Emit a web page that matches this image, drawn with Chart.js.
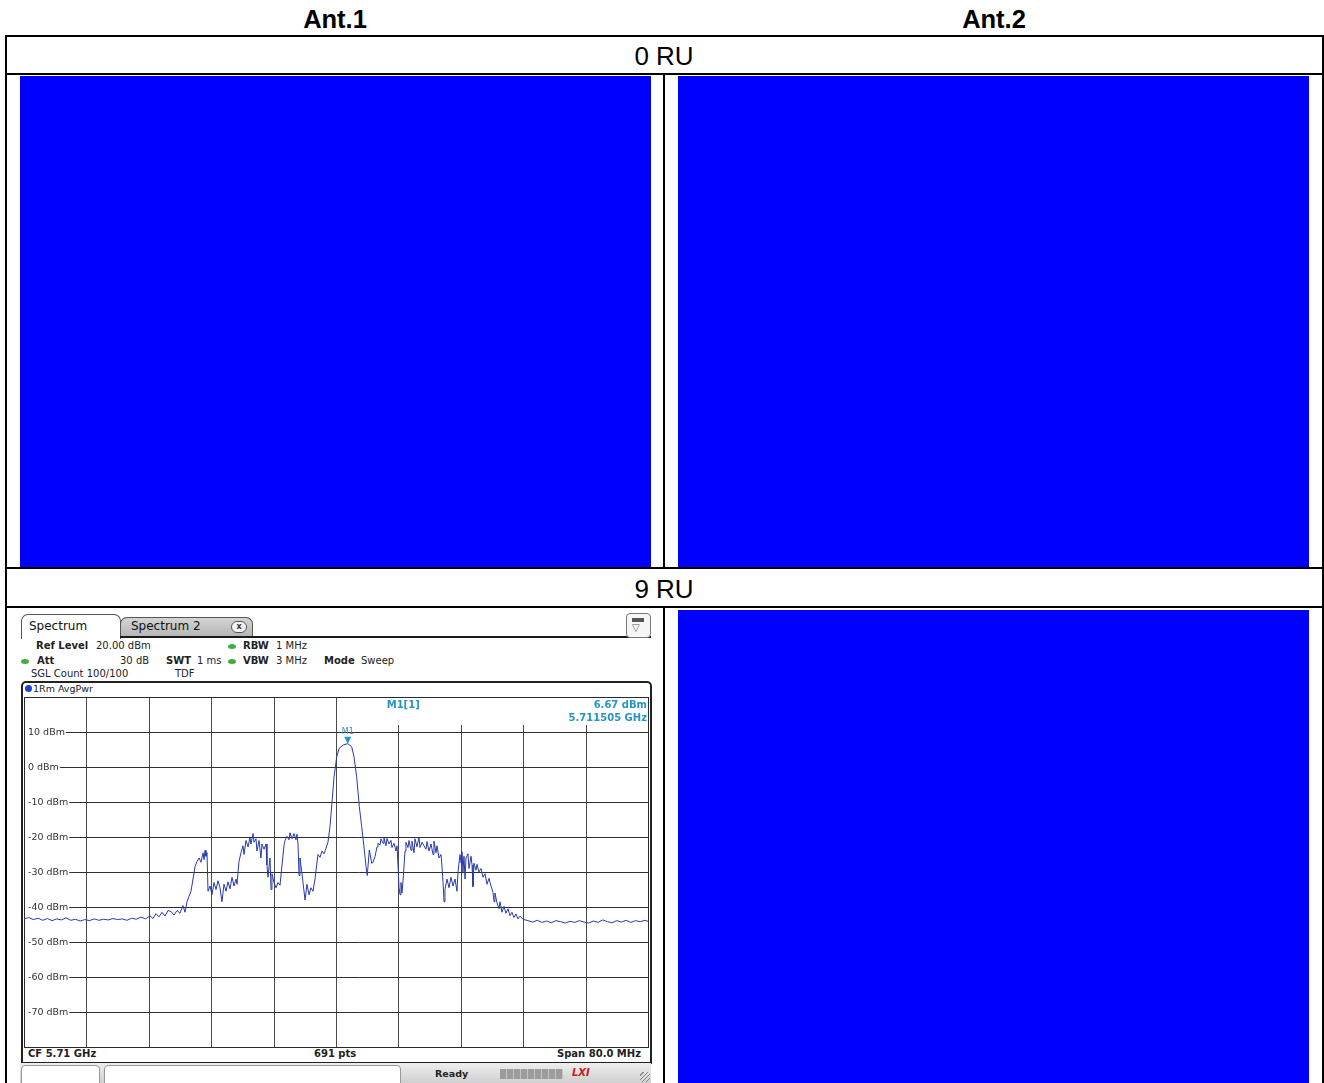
<!DOCTYPE html>
<html>
<head>
<meta charset="utf-8">
<script src="https://cdn.jsdelivr.net/npm/chart.js@4.4.1/dist/chart.umd.min.js"></script>
<style>
  html, body { margin: 0; padding: 0; background: #fff; }
  body { width: 1324px; height: 1083px; position: relative; overflow: hidden;
         font-family: "Liberation Sans", Arial, sans-serif; }
  .hl { position: absolute; background: #000; height: 2px; }
  .vl { position: absolute; background: #000; width: 2px; }
  .blue { position: absolute; background: #0000ff; }
  .colhead { position: absolute; top: 4px; width: 300px; font-weight: bold; font-size: 25.5px;
             line-height: 30px; text-align: center; color: #000; }
  .rowhead { position: absolute; left: 6px; width: 1316px; font-size: 26px; line-height: 30px;
             text-align: center; color: #000; }
  .sa { position: absolute; white-space: nowrap; font-family: "DejaVu Sans", Verdana, sans-serif;
        font-size: 10px; line-height: 12px; color: #222; }
  .b { font-weight: bold; }
  .dot { position: absolute; width: 8px; height: 5px; border-radius: 50%; background: #3fae3f; }
</style>
</head>
<body>
<!-- column headings -->
<div class="colhead" id="col0" style="left:185px;"></div>
<div class="colhead" id="col1" style="left:844px;"></div>

<!-- table rules -->
<div class="hl" style="left:5px; top:35px; width:1319px;"></div>
<div class="hl" style="left:5px; top:73px; width:1319px;"></div>
<div class="hl" style="left:5px; top:567px; width:1319px;"></div>
<div class="hl" style="left:5px; top:606px; width:1319px;"></div>
<div class="vl" style="left:5px; top:35px; height:1048px;"></div>
<div class="vl" style="left:1322px; top:35px; height:1048px;"></div>
<div class="vl" style="left:663px; top:74px; height:494px;"></div>
<div class="vl" style="left:663px; top:607px; height:476px;"></div>

<div class="rowhead" id="row0" style="top:41px;"></div>
<div class="rowhead" id="row1" style="top:574px;"></div>

<!-- empty result panels -->
<div class="blue" style="left:20px; top:76px; width:631px; height:491px;"></div>
<div class="blue" style="left:678px; top:76px; width:631px; height:491px;"></div>
<div class="blue" style="left:678px; top:610px; width:631px; height:473px;"></div>

<!-- spectrum analyzer panel -->
<div style="position:absolute; left:20px; top:609px; width:631px; height:474px; background:#fff;"></div>
<!-- tabs -->
<div style="position:absolute; left:120px; top:617px; width:131px; height:19px; background:linear-gradient(#d4d4d4,#b4b4b4); border:1px solid #555; border-bottom:none; border-radius:7px 7px 0 0;"></div>
<div style="position:absolute; left:21px; top:614px; width:98px; height:24px; background:#fff; border:1px solid #555; border-bottom:none; border-radius:7px 7px 0 0;"></div>
<div style="position:absolute; left:120px; top:636px; width:531px; height:2px; background:#1a1a1a;"></div>
<div class="sa" style="left:29px; top:619px; font-size:12px; line-height:14px; color:#111;">Spectrum</div>
<div class="sa" style="left:131px; top:619px; font-size:12px; line-height:14px; color:#111;">Spectrum 2</div>
<div style="position:absolute; left:231px; top:621px; width:14px; height:10px; border:1px solid #555; border-radius:6px; background:#f4f4f4; font:bold 8px 'DejaVu Sans'; line-height:10px; text-align:center; color:#333;">x</div>
<!-- display config button -->
<div style="position:absolute; left:626px; top:613px; width:23px; height:23px; border:1px solid #777; border-radius:4px; background:#f6f6f6;"></div>
<div style="position:absolute; left:632px; top:618px; width:12px; height:4px; background:#555;"></div>
<div class="sa" style="left:632px; top:622px; font-size:10px; color:#555;">▽</div>

<!-- settings block -->
<div class="sa b" style="left:36px; top:640px;">Ref Level</div>
<div class="sa" style="left:96px; top:640px;">20.00 dBm</div>
<div class="dot" style="left:228px; top:644px;"></div>
<div class="sa b" style="left:243px; top:640px;">RBW</div>
<div class="sa" style="left:276px; top:640px;">1 MHz</div>

<div class="dot" style="left:21px; top:659px;"></div>
<div class="sa b" style="left:37px; top:655px;">Att</div>
<div class="sa" style="left:120px; top:655px;">30 dB</div>
<div class="sa b" style="left:166px; top:655px;">SWT</div>
<div class="sa" style="left:197px; top:655px;">1 ms</div>
<div class="dot" style="left:228px; top:659px;"></div>
<div class="sa b" style="left:243px; top:655px;">VBW</div>
<div class="sa" style="left:276px; top:655px;">3 MHz</div>
<div class="sa b" style="left:324px; top:655px;">Mode</div>
<div class="sa" style="left:361px; top:655px;">Sweep</div>

<div class="sa" style="left:31px; top:668px;">SGL Count 100/100</div>
<div class="sa" style="left:175px; top:668px;">TDF</div>

<!-- trace window frame -->
<div style="position:absolute; left:21px; top:681px; width:627px; height:379px; border:2px solid #222; border-radius:5px 5px 0 0;"></div>
<div style="position:absolute; left:25px; top:685px; width:7px; height:7px; border-radius:50%; background:#2040d0;"></div>
<div class="sa" style="left:33px; top:683px; font-size:9.5px;">1Rm AvgPwr</div>

<canvas id="spectrum" width="625" height="351" style="position:absolute; left:24px; top:697px;"></canvas>

<!-- footer of the trace window -->
<div class="sa b" style="left:28px; top:1048px;">CF 5.71 GHz</div>
<div class="sa b" style="left:314px; top:1048px;">691 pts</div>
<div class="sa b" style="left:557px; top:1048px;">Span 80.0 MHz</div>

<!-- status bar -->
<div style="position:absolute; left:20px; top:1063px; width:631px; height:20px; background:linear-gradient(#eeeeee,#cfcfcf);"></div>
<div style="position:absolute; left:21px; top:1065px; width:77px; height:20px; background:#fff; border:1px solid #999; border-radius:4px;"></div>
<div style="position:absolute; left:104px; top:1065px; width:295px; height:20px; background:#fff; border:1px solid #999; border-radius:4px;"></div>
<div class="sa b" style="left:435px; top:1068px; font-size:9.5px;">Ready</div>
<div style="position:absolute; left:500px; top:1069px; width:63px; height:10px; background:repeating-linear-gradient(90deg,#9c9c9c 0 6px,#c4c4c4 6px 7px);"></div>
<div class="sa b" style="left:572px; top:1067px; font-style:italic; color:#d01818; font-size:10px;">LXI</div>
<div style="position:absolute; left:640px; top:1072px; width:10px; height:10px; background:repeating-linear-gradient(135deg,transparent 0 2px,#888 2px 3px);"></div>

<script>
// table captions
const columnTitles = ['Ant.1', 'Ant.2'];
const rowTitles = ['0 RU', '9 RU'];

// analyzer sweep: 5.71 GHz centre, 80 MHz span, average power trace
const centerMHz = 5710;
const spanMHz = 80;
const refLevelDbm = 20;
const levelRangeDb = 100;

// frequency of each trace point, MHz offset from centre
const freqOffsetMHz = [
  -40.0, -39.4, -38.8, -38.2, -37.6, -37.0, -36.4, -35.8, -35.2, -34.6,
  -34.0, -33.4, -32.8, -32.2, -31.6, -31.0, -30.4, -29.8, -29.2, -28.6,
  -28.0, -27.4, -26.8, -26.2, -25.6, -25.0, -24.4,
  -23.85, -23.46, -23.08, -22.69, -22.31, -21.92, -21.54, -21.15, -20.77, -20.38,
  -20.00, -19.62, -19.36, -19.10, -18.85, -18.59, -18.33, -18.08, -17.82, -17.56,
  -17.31, -17.05, -16.92, -16.79, -16.67, -16.54, -16.41, -16.15, -15.90, -15.64,
  -15.38, -15.13, -14.87, -14.62, -14.36, -14.10, -13.85, -13.59, -13.33, -13.08,
  -12.82, -12.69, -12.44, -12.18, -11.92, -11.79, -11.54, -11.28, -11.03, -10.90,
  -10.64, -10.51, -10.26, -10.13, -9.87, -9.62, -9.49, -9.23, -8.97, -8.85,
  -8.72, -8.46, -8.33, -8.21, -7.95, -7.69, -7.44, -7.18, -6.92, -6.67,
  -6.54, -6.28, -6.03, -5.90, -5.64, -5.38, -5.13, -5.00, -4.87, -4.74,
  -4.62, -4.36, -4.23, -3.97, -3.72, -3.46, -3.21, -2.95, -2.69, -2.56,
  -2.31, -2.05, -1.79, -1.54, -1.28, -1.03, -0.77, -0.51, -0.26, 0.09,
  0.42, 0.94, 1.505, 2.01, 2.31, 2.65, 2.99, 3.29, 3.59, 3.85,
  4.01, 4.27, 4.58, 4.74, 5.00, 5.26, 5.38, 5.64, 5.77, 6.03,
  6.15, 6.41, 6.54, 6.79, 7.05, 7.18, 7.44, 7.69, 7.82, 7.95,
  8.08, 8.21, 8.33, 8.46, 8.59, 8.85, 8.97, 9.23, 9.36, 9.62,
  9.74, 10.00, 10.13, 10.38, 10.64, 10.77, 11.03, 11.28, 11.54, 11.67,
  11.92, 12.18, 12.44, 12.56, 12.82, 12.95, 13.21, 13.46, 13.59, 13.72,
  13.85, 13.97, 14.23, 14.49, 14.74, 15.00, 15.26, 15.51, 15.64, 15.90,
  16.03, 16.15, 16.28, 16.41, 16.54, 16.67, 16.92, 17.05, 17.31, 17.44,
  17.56, 17.69, 17.95, 18.08, 18.33, 18.59, 18.85, 19.10, 19.36, 19.62,
  19.87, 20.13, 20.26, 20.38, 20.64, 20.90, 21.03, 21.28, 21.54, 21.79,
  22.05, 22.31, 22.56, 22.82, 23.08, 23.33, 23.59, 23.97,
  24.6, 25.2, 25.8, 26.4, 27.0, 27.6, 28.2, 28.8, 29.4, 30.0,
  30.6, 31.2, 31.8, 32.4, 33.0, 33.6, 34.2, 34.8, 35.4, 36.0,
  36.6, 37.2, 37.8, 38.4, 39.0, 39.6, 40.0
];

// measured level at each point, dBm
const levelDbm = [
  -43.4, -43.0, -43.6, -43.2, -43.8, -43.3, -43.9, -43.4, -43.7, -43.1,
  -43.8, -43.5, -44.0, -43.6, -43.9, -43.4, -43.8, -43.5, -43.7, -43.3,
  -43.6, -43.4, -43.8, -43.2, -43.5, -42.9, -43.4,
  -42.5, -43.3, -41.9, -42.8, -41.5, -42.6, -41.0, -41.3, -42.3, -41.0,
  -41.8, -39.6, -41.5, -38.5, -37.0, -35.5, -32.0, -28.5, -27.0, -26.0,
  -27.2, -24.5, -26.5, -23.8, -25.5, -24.5, -35.5, -34.0, -36.5, -33.0,
  -35.0, -32.5, -34.5, -38.5, -33.5, -35.5, -32.8, -34.8, -31.5, -34.0,
  -32.0, -33.5, -27.0, -24.5, -22.5, -25.0, -21.0, -22.8, -20.2, -22.0,
  -19.0, -21.5, -20.5, -24.0, -21.0, -26.0, -22.0, -23.5, -22.0, -28.0,
  -31.5, -26.0, -35.0, -30.5, -33.0, -34.5, -33.0, -33.8, -28.0, -22.5,
  -21.0, -19.8, -20.8, -18.8, -20.5, -19.0, -20.8, -19.2, -22.0, -31.0,
  -26.0, -30.5, -33.0, -38.0, -33.5, -36.5, -34.5, -35.5, -32.0, -29.5,
  -25.0, -25.8, -24.0, -24.8, -23.2, -21.5, -17.0, -10.0, -3.0, 2.9,
  5.4, 6.3, 6.67, 5.8, 2.9, -2.8, -11.3, -17.0, -22.8, -28.5,
  -31.0, -23.7, -27.5, -27.3, -25.6, -22.8, -21.8, -22.3, -20.5, -21.8,
  -20.2, -22.5, -20.4, -22.0, -21.0, -23.0, -21.8, -24.0, -22.5, -28.0,
  -34.5, -36.5, -33.0, -36.0, -32.5, -24.0, -21.5, -23.0, -21.0, -23.8,
  -21.2, -24.5, -20.5, -22.8, -20.2, -23.0, -21.5, -22.5, -23.5, -21.3,
  -24.0, -22.0, -25.0, -21.2, -24.5, -22.5, -26.0, -25.0, -28.5, -33.0,
  -38.5, -35.0, -32.0, -34.5, -31.5, -34.0, -32.0, -35.5, -30.0, -25.0,
  -27.5, -24.2, -30.0, -25.5, -32.0, -26.0, -24.8, -29.0, -25.5, -28.0,
  -34.2, -27.5, -29.5, -27.8, -30.0, -29.0, -31.5, -30.5, -33.5, -31.8,
  -34.0, -35.8, -38.5, -36.0, -38.8, -40.5, -38.5, -41.5, -39.8, -41.8,
  -40.5, -42.5, -41.5, -43.0, -42.0, -43.4, -42.6, -43.5,
  -43.9, -44.3, -43.8, -44.4, -44.0, -44.5, -43.9, -44.2, -44.6, -44.1,
  -44.4, -43.9, -44.3, -44.6, -44.0, -44.4, -43.7, -44.2, -44.5, -43.9,
  -44.3, -43.8, -44.4, -43.9, -44.2, -43.8, -44.1
];

// level graticule and its labels
const levelTicks = [10, 0, -10, -20, -30, -40, -50, -60, -70];
const levelTickLabels = ['10 dBm', '0 dBm', '-10 dBm', '-20 dBm', '-30 dBm', '-40 dBm', '-50 dBm', '-60 dBm', '-70 dBm'];
// frequency graticule, one line per division (span / 10)
const freqGridMHz = [-32, -24, -16, -8, 0, 8, 16, 24, 32];

// marker 1 on the trace maximum
const markerName = 'M1';
const markerFreqOffsetMHz = 1.505;
const markerLevelDbm = 6.67;

document.getElementById('col0').textContent = columnTitles[0];
document.getElementById('col1').textContent = columnTitles[1];
document.getElementById('row0').textContent = rowTitles[0];
document.getElementById('row1').textContent = rowTitles[1];

const traceColor = 'rgb(40, 58, 170)';
const markerColor = '#2596c4';
const gridColor = '#4a4a4a';

const graticule = {
  id: 'graticule',
  beforeDatasetsDraw(chart) {
    const { ctx, chartArea: a, scales: { x, y } } = chart;
    ctx.save();
    ctx.lineWidth = 1;

    // vertical divisions
    ctx.strokeStyle = gridColor;
    freqGridMHz.forEach(f => {
      const px = Math.round(x.getPixelForValue(f)) + 0.5;
      ctx.beginPath();
      ctx.moveTo(px, a.top);
      ctx.lineTo(px, a.bottom);
      ctx.stroke();
    });

    // level lines, each starting after its label
    ctx.font = '9.5px "DejaVu Sans", Verdana, sans-serif';
    ctx.textBaseline = 'middle';
    ctx.textAlign = 'left';
    levelTicks.forEach((v, i) => {
      const py = Math.round(y.getPixelForValue(v)) + 0.5;
      const label = levelTickLabels[i];
      const w = ctx.measureText(label).width;
      ctx.fillStyle = '#ffffff';
      ctx.fillRect(a.left + 2, py - 6, w + 3, 12);
      ctx.fillStyle = '#333333';
      ctx.fillText(label, a.left + 4, py + 0.5);
      ctx.strokeStyle = '#2e2e2e';
      ctx.beginPath();
      ctx.moveTo(a.left + 5 + w, py);
      ctx.lineTo(a.right, py);
      ctx.stroke();
    });

    // marker readout field in the upper right corner
    const boxLeft = x.getPixelForValue(5.4);
    const boxBottom = y.getPixelForValue(12);
    ctx.fillStyle = '#ffffff';
    ctx.fillRect(boxLeft, a.top + 1, a.right - boxLeft - 1, boxBottom - a.top - 1);
    ctx.fillStyle = markerColor;
    ctx.font = 'bold 10px "DejaVu Sans", Verdana, sans-serif';
    ctx.fillText(markerName + '[1]', x.getPixelForValue(6.5), a.top + 8.5);
    ctx.textAlign = 'right';
    ctx.fillText(markerLevelDbm.toFixed(2) + ' dBm', a.right - 1, a.top + 8.5);
    const markerGHz = (centerMHz + markerFreqOffsetMHz) / 1000;
    ctx.fillText(markerGHz.toFixed(6) + ' GHz', a.right - 1, a.top + 21.5);

    // frame of the diagram
    ctx.strokeStyle = '#2a2a2a';
    ctx.strokeRect(a.left + 0.5, a.top + 0.5, a.right - a.left, a.bottom - a.top);
    ctx.restore();
  },
  afterDatasetsDraw(chart) {
    const { ctx, scales: { x, y } } = chart;
    const mx = x.getPixelForValue(markerFreqOffsetMHz);
    const my = y.getPixelForValue(markerLevelDbm);
    ctx.save();
    ctx.fillStyle = markerColor;
    ctx.beginPath();
    ctx.moveTo(mx - 3.5, my - 7);
    ctx.lineTo(mx + 3.5, my - 7);
    ctx.lineTo(mx, my);
    ctx.closePath();
    ctx.fill();
    ctx.font = '8px "DejaVu Sans", Verdana, sans-serif';
    ctx.textAlign = 'center';
    ctx.textBaseline = 'middle';
    ctx.fillText(markerName, mx, my - 12);
    ctx.restore();
  }
};

const points = freqOffsetMHz.map((f, i) => ({ x: f, y: levelDbm[i] }));

new Chart(document.getElementById('spectrum'), {
  type: 'line',
  data: {
    datasets: [{
      data: points,
      borderColor: traceColor,
      borderWidth: 1,
      pointRadius: 0,
      tension: 0,
      fill: false
    }]
  },
  options: {
    responsive: false,
    animation: false,
    devicePixelRatio: 1,
    layout: { padding: { left: 0, top: 0, right: 1, bottom: 1 } },
    plugins: { legend: { display: false }, tooltip: { enabled: false } },
    scales: {
      x: { type: 'linear', display: false, min: -spanMHz / 2, max: spanMHz / 2 },
      y: { type: 'linear', display: false, min: refLevelDbm - levelRangeDb, max: refLevelDbm }
    }
  },
  plugins: [graticule]
});
</script>
</body>
</html>
